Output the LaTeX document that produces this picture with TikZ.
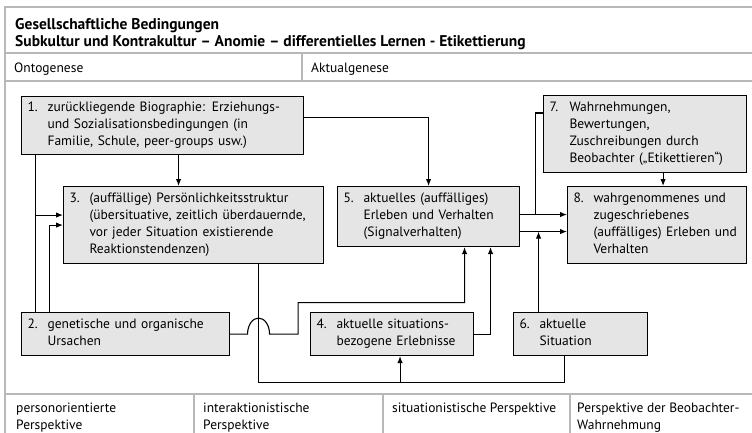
\documentclass[tikz,border=0pt]{standalone}
\usepackage{fontspec}
\setmainfont{PT Sans}
\usetikzlibrary{arrows.meta,positioning}
\definecolor{boxgray}{gray}{0.9}
\definecolor{rulegray}{gray}{0.72}
\newcommand{\boxfont}{\fontsize{13.5}{17}\selectfont}
\newcommand{\headfont}{\fontsize{15.5}{17}\selectfont\bfseries}
\newcommand{\numbered}[2]{\noindent\makebox[20pt][l]{#1}\begin{tabular}[t]{@{}l@{}}#2\end{tabular}}
\tikzstyle{block} = [rectangle, draw, fill=boxgray, line width=1.1pt, anchor=north west,
    inner xsep=6pt, inner ysep=0pt, font=\boxfont]
\tikzstyle{line} = [draw, line width=1.1pt, -{Latex[length=7pt,width=5.5pt]}]
\tikzstyle{wire} = [draw, line width=1.1pt]
\tikzstyle{rule} = [draw=rulegray, line width=1.2pt]
\tikzstyle{celltext} = [anchor=base west, inner sep=0pt, font=\boxfont, align=left]

\begin{document}
\begin{tikzpicture}[x=1pt, y=-1pt]
      \useasboundingbox (0,0) rectangle (752,433);
      % frame
      \path [rule] (5,433) -- (5,7) -- (752,7);
      \path [rule] (5,53) -- (752,53);
      \path [rule] (5,81) -- (752,81);
      \path [rule] (5,394) -- (752,394);
      \path [rule] (302,53) -- (302,81);
      \path [rule] (194,394) -- (194,433);
      \path [rule] (383,394) -- (383,433);
      \path [rule] (570,394) -- (570,433);
      \node [celltext, font=\headfont] (head1) at (15,30) {Gesellschaftliche Bedingungen};
      \node [celltext, font=\headfont] (head2) at (15,47) {Subkultur und Kontrakultur – Anomie – differentielles Lernen - Etikettierung};
      \node [celltext] (onto) at (14,73) {Ontogenese};
      \node [celltext] (aktual) at (311,73) {Aktualgenese};
      \node [celltext] (persp1) at (16,429) {personorientierte\\Perspektive};
      \node [celltext] (persp2) at (203,429) {interaktionistische\\Perspektive};
      \node [celltext] (persp3) at (392,412) {situationistische Perspektive};
      \node [celltext] (persp4) at (577,429) {Perspektive der Beobachter-\\Wahrnehmung};
      % boxes
      \node [block, text width=270pt, minimum height=58pt] (bio) at (21,96)
          {\numbered{1.}{zurückliegende Biographie: Erziehungs-\\und Sozialisationsbedingungen (in\\Familie, Schule, peer-groups usw.)}};
      \node [block, text width=248pt, minimum height=77pt] (pers) at (63,186)
          {\numbered{3.}{(auffällige) Persönlichkeitsstruktur\\(übersituative, zeitlich überdauernde,\\vor jeder Situation existierende\\Reaktionstendenzen)}};
      \node [block, text width=170pt, minimum height=60pt] (verh) at (337,186)
          {\numbered{5.}{aktuelles (auffälliges)\\Erleben und Verhalten\\(Signalverhalten)}};
      \node [block, text width=191pt, minimum height=77pt] (beob) at (543,95)
          {\numbered{7.}{Wahrnehmungen,\\Bewertungen,\\Zuschreibungen durch\\Beobachter („Etikettieren“)}};
      \node [block, text width=167pt, minimum height=77pt] (wahr) at (567,186)
          {\numbered{8.}{wahrgenommenes und\\zugeschriebenes\\(auffälliges) Erleben und\\Verhalten}};
      \node [block, text width=196pt, minimum height=43pt] (gen) at (21,312)
          {\numbered{2.}{genetische und organische\\Ursachen}};
      \node [block, text width=151pt, minimum height=43pt] (erleb) at (310,312)
          {\numbered{4.}{aktuelle situations-\\bezogene Erlebnisse}};
      \node [block, text width=122pt, minimum height=43pt] (sit) at (513,312)
          {\numbered{6.}{aktuelle\\Situation}};
      % Draw edges
      \coordinate (a1) at ([xshift=16pt]bio.south);
      \path [line] (a1) -- (a1 |- pers.north);
      \coordinate (a2) at ([yshift=8pt]bio.east);
      \path [line] (a2) -| (verh.north);
      \coordinate (t1) at ([xshift=14.5pt]bio.south west);
      \path [wire] (t1) -- (t1 |- gen.north);
      \coordinate (a3) at ([yshift=10pt]pers.west);
      \path [line] (a3 -| t1) -- (a3);
      \path [line] ([xshift=28.5pt]gen.north west) |- (pers.west);
      \coordinate (v3) at ([xshift=65pt]pers.south);
      \coordinate (bus) at ([yshift=-26pt]erleb.south);
      \coordinate (s6) at ([xshift=-16pt]sit.south);
      \path [wire] (v3) |- (bus -| s6) -- (s6);
      \coordinate (a4) at ([xshift=8pt]erleb.south);
      \path [line] (a4 |- bus) -- (a4);
      \coordinate (hop) at (v3 |- gen.east);
      \coordinate (k1) at ([xshift=68pt,yshift=31.5pt]gen.east);
      \coordinate (a5) at ([xshift=36pt]verh.south);
      \path [line] (gen.east) -- ([xshift=-11pt]hop)
          arc [start angle=180, end angle=0, x radius=11pt, y radius=16pt]
          -- (k1 |- gen.east) -- (k1) -| (a5);
      \coordinate (a6) at ([xshift=62pt]verh.south);
      \path [line] (erleb.east) -| (a6);
      \coordinate (o1) at ([yshift=2pt]verh.east);
      \coordinate (o2) at ([yshift=-15pt]verh.east);
      \path [line] (o1) -- (o1 -| wahr.west);
      \path [line] (o2) -- (o2 -| wahr.west);
      \coordinate (a7) at ([yshift=21pt]beob.west);
      \path [wire] ([xshift=15pt]o1) |- (a7);
      \coordinate (s6t) at ([xshift=-42pt]sit.north);
      \path [line] (s6t) -- (s6t |- o2);
      \coordinate (a8) at ([xshift=18pt]beob.south);
      \path [line] (a8) -- (a8 |- wahr.north);
\end{tikzpicture}
\end{document}
